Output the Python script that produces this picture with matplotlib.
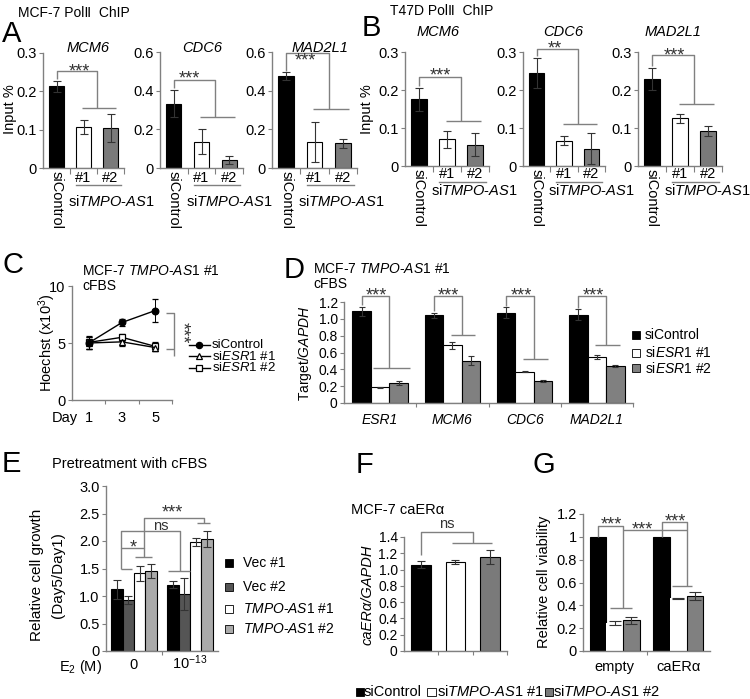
import matplotlib
matplotlib.use('Agg')
import matplotlib.pyplot as plt
from matplotlib.transforms import blended_transform_factory as btf
from matplotlib.patches import Rectangle
import numpy as np

plt.rcParams['font.family'] = ['Liberation Sans', 'DejaVu Sans']
plt.rcParams['mathtext.fontset'] = 'custom'
plt.rcParams['mathtext.rm'] = 'Liberation Sans'
plt.rcParams['mathtext.it'] = 'Liberation Sans:italic'
plt.rcParams['mathtext.bf'] = 'Liberation Sans:bold'

# ---------------- data ----------------
chip_genes = ['MCM6', 'CDC6', 'MAD2L1']
chip_groups = ['siControl', '#1', '#2']
A_mean = [[0.213, 0.107, 0.104], [0.333, 0.136, 0.041], [0.474, 0.136, 0.127]]
A_err = [[0.015, 0.017, 0.036], [0.070, 0.065, 0.020], [0.020, 0.103, 0.025]]
A_ymax = [0.3, 0.6, 0.6]
A_yticklabels = [['0', '0.1', '0.2', '0.3'], ['0', '0.2', '0.4', '0.6'], ['0', '0.2', '0.4', '0.6']]
A_sig = ['***', '***', '***']

B_mean = [[0.176, 0.070, 0.056], [0.244, 0.067, 0.045], [0.230, 0.126, 0.093]]
B_err = [[0.030, 0.022, 0.030], [0.040, 0.012, 0.041], [0.029, 0.012, 0.013]]
B_ymax = [0.3, 0.3, 0.3]
B_yticklabels = [['0', '0.1', '0.2', '0.3']] * 3
B_sig = ['***', '**', '***']

C_days = ['1', '3', '5']
C_series = ['siControl', 'si$\\mathit{ESR1}$ #1', 'si$\\mathit{ESR1}$ #2']
C_mean = [[5.0, 6.8, 7.85], [5.0, 5.1, 4.6], [5.05, 5.5, 4.7]]
C_err = [[0.55, 0.30, 1.05], [0.50, 0.35, 0.30], [0.60, 0.30, 0.40]]

D_genes = ['ESR1', 'MCM6', 'CDC6', 'MAD2L1']
D_series = ['siControl', 'si$\\mathit{ESR1}$ #1', 'si$\\mathit{ESR1}$ #2']
D_mean = [[1.09, 1.043, 1.075, 1.051], [0.185, 0.685, 0.374, 0.551], [0.236, 0.504, 0.264, 0.44]]
D_err = [[0.055, 0.03, 0.06, 0.06], [0.01, 0.045, 0.01, 0.025], [0.025, 0.05, 0.015, 0.01]]
D_yticklabels = ['0', '0.2', '0.4', '0.6', '0.8', '1.0', '1.2']

E_groups = ['0', '10$^{-13}$']
E_series = ['Vec #1', 'Vec #2', '$\\mathit{TMPO}$-$\\mathit{AS1}$ #1', '$\\mathit{TMPO}$-$\\mathit{AS1}$ #2']
E_mean = [[1.12, 1.206], [0.933, 1.04], [1.41, 1.98], [1.455, 2.04]]
E_err = [[0.17, 0.06], [0.07, 0.29], [0.14, 0.07], [0.13, 0.14]]
E_yticklabels = ['0', '0.5', '1.0', '1.5', '2.0', '2.5', '3.0']

F_groups = ['siControl', 'siTMPO-AS1 #1', 'siTMPO-AS1 #2']
F_mean = [1.06, 1.09, 1.15]
F_err = [0.045, 0.025, 0.085]
F_yticklabels = ['0', '0.2', '0.4', '0.6', '0.8', '1.0', '1.2', '1.4']

G_groups = ['empty', 'caERα']
G_mean = [[1.0, 1.0], [0.245, 0.46], [0.27, 0.48]]
G_err = [[0.0, 0.0], [0.02, 0.006], [0.03, 0.035]]
G_yticklabels = ['0', '0.2', '0.4', '0.6', '0.8', '1', '1.2']

bottom_legend = ['siControl', 'si$\\mathit{TMPO}$-$\\mathit{AS1}$ #1', 'si$\\mathit{TMPO}$-$\\mathit{AS1}$ #2']

# ---------------- helpers ----------------
W, H = 750, 699
fig = plt.figure(figsize=(W / 100, H / 100), dpi=100)
GRAY = '#808080'
STAR = '#333333'
STAR_FS = 13
TMPO = 'si$\\mathit{TMPO}$-$\\mathit{AS1}$'


def add_ax(x0, ytop, x1, ybot, labelsize=10.5):
    ax = fig.add_axes([x0 / W, 1 - ybot / H, (x1 - x0) / W, (ybot - ytop) / H])
    for s in ['top', 'right']:
        ax.spines[s].set_visible(False)
    for s in ['left', 'bottom']:
        ax.spines[s].set_color(GRAY)
        ax.spines[s].set_linewidth(1.0)
    ax.tick_params(axis='both', direction='out', length=3, width=0.8, color=GRAY,
                   labelsize=labelsize, pad=1.5)
    ax.set_facecolor('none')
    return ax


def ftext(px, py, s, **kw):
    return fig.text(px / W, 1 - py / H, s, **kw)


def fy(py):
    return 1 - py / H


def stars(ax, x, y, s, fs=STAR_FS):
    ax.annotate(s, (x, y), xytext=(0, -0.57 * fs), textcoords='offset points',
                ha='center', va='baseline', fontsize=fs, color=STAR, annotation_clip=False)


def bline(ax, xs, ys, **kw):
    ax.plot(xs, ys, color=GRAY, lw=1, clip_on=False, solid_capstyle='butt', **kw)


def fsquare(cx, cy, color, size=8):
    fig.add_artist(Rectangle(((cx - size / 2) / W, 1 - (cy + size / 2) / H), size / W, size / H,
                             transform=fig.transFigure, facecolor=color, edgecolor='black', lw=0.6))


# ---------------- panels A & B ----------------
chip_colors = ['black', 'white', '#7a7a7a']
A_boxes = [(43, 53, 124, 168), (160, 52, 243, 168), (272, 52, 357, 168)]
B_boxes = [(405, 52, 489, 166), (523, 52, 605, 166), (638, 52, 722, 166)]
A_brk = [(0.252, 0.157, 0.83, 0.266), (0.454, 0.265, 0.55, 0.49), (0.595, 0.303, 0.67, 0.584)]
B_brk = [(0.234, 0.118, 0.75, 0.253), (0.308, 0.110, 0.67, 0.324), (0.292, 0.163, 0.79, 0.305)]
A_title = [(88, 52), (202, 52), (320, 52)]
B_title = [(438, 36), (563, 36), (673, 36)]


def chip_panel(box, means, errs, ymax, ytl, sig, brk, title, gene, ynum, yline, ysi, ysc):
    ax = add_ax(*box)
    x = np.arange(len(chip_groups))
    ax.bar(x, means, width=0.55, color=chip_colors, edgecolor='black', linewidth=0.8, zorder=2)
    ax.errorbar(x, means, yerr=errs, fmt='none', ecolor='#333333', elinewidth=0.8,
                capsize=2.8, capthick=0.8, zorder=3)
    ax.set_xlim(-0.5, 2.5)
    ax.set_ylim(0, ymax)
    ax.set_yticks(np.linspace(0, ymax, len(ytl)))
    ax.set_yticklabels(ytl)
    ax.set_xticks([0.5, 1.5, 2.5])
    ax.set_xticklabels([])
    ax.tick_params(axis='x', length=4)
    top, low, sx, sy = brk
    b0 = means[0] + errs[0] + 0.015 * ymax
    bline(ax, [0, 0, 1.5, 1.5], [b0, top, top, low])
    bline(ax, [0.95, 2.2], [low, low])
    stars(ax, sx, sy, sig)
    ftext(title[0], title[1], gene, fontsize=10.5, style='italic', ha='center', va='baseline')
    tr = btf(ax.transData, fig.transFigure)
    ax.text(0, fy(ysc), chip_groups[0], transform=tr, rotation=-90, ha='center', va='top', fontsize=10.5)
    for i in (1, 2):
        ax.text(i, fy(ynum), chip_groups[i], transform=tr, ha='center', va='baseline', fontsize=10.5)
    ax.plot([0.72, 2.4], [fy(yline)] * 2, transform=tr, color=GRAY, lw=1, clip_on=False)
    ax.text(0.43, fy(ysi), TMPO, transform=tr, ha='left', va='baseline', fontsize=10.5)
    return ax


for i in range(3):
    axA = chip_panel(A_boxes[i], A_mean[i], A_err[i], A_ymax[i], A_yticklabels[i], A_sig[i],
                     A_brk[i], A_title[i], chip_genes[i], 182.5, 185, 206, 171)
    axB = chip_panel(B_boxes[i], B_mean[i], B_err[i], B_ymax[i], B_yticklabels[i], B_sig[i],
                     B_brk[i], B_title[i], chip_genes[i], 178.5, 181.5, 195, 169)

ftext(10, 109, 'Input %', rotation=90, ha='center', va='center', fontsize=10.5)
ftext(367, 109, 'Input %', rotation=90, ha='center', va='center', fontsize=10.5)
ftext(18, 17, 'MCF-7 Pol\u2161  ChIP', fontsize=10, ha='left', va='baseline')
ftext(390, 15, 'T47D Pol\u2161  ChIP', fontsize=10, ha='left', va='baseline')
ftext(2, 42, 'A', fontsize=21, ha='left', va='baseline')
ftext(362, 36, 'B', fontsize=21, ha='left', va='baseline')

# ---------------- panel C ----------------
axC = add_ax(72, 286, 172, 400)
xc = np.arange(len(C_days))
c_markers = ['o', '^', 's']
c_faces = ['black', 'white', 'white']
for k in range(3):
    axC.errorbar(xc, C_mean[k], yerr=C_err[k], color='black', lw=1, elinewidth=0.7,
                 capsize=2.2, capthick=0.7, marker=c_markers[k], ms=4.8, mfc=c_faces[k],
                 mec='black', mew=0.9, zorder=3 - k * 0.1)
axC.set_xlim(-0.5, 2.5)
axC.set_ylim(0, 10)
axC.set_yticks([0, 5, 10])
axC.set_xticks([0.5, 1.5, 2.5])
axC.set_xticklabels([])
trC = btf(axC.transData, fig.transFigure)
for i, d in enumerate(C_days):
    axC.text(i, fy(422), d, transform=trC, ha='center', va='baseline', fontsize=10.5)
ftext(52, 422, 'Day', fontsize=10.5, ha='left', va='baseline')
ftext(47, 343, 'Hoechst (x10$^3$)', rotation=90, ha='center', va='center', fontsize=10.5)
ftext(82, 275, 'MCF-7 $\\mathit{TMPO}$-$\\mathit{AS1}$ #1', fontsize=10, ha='left', va='baseline')
ftext(82, 290, 'cFBS', fontsize=10, ha='left', va='baseline')
ftext(2, 273, 'C', fontsize=21, ha='left', va='baseline')
bline(axC, [2.32, 2.56, 2.56], [7.63, 7.63, 3.9])
bline(axC, [2.32, 2.56], [4.5, 4.5])
axC.text(2.78, 5.9, '***', rotation=-90, ha='center', va='center', fontsize=STAR_FS,
         color=STAR, clip_on=False)
leg_y = [344.5, 356, 367.5]
for k in range(3):
    fig.add_artist(plt.Line2D([189 / W, 210 / W], [fy(leg_y[k])] * 2, color='black', lw=1,
                              marker=None, transform=fig.transFigure))
    fig.add_artist(plt.Line2D([199 / W], [fy(leg_y[k])], color='black', marker=c_markers[k],
                              ms=4.5, mfc=c_faces[k], mec='black', mew=0.9, transform=fig.transFigure))
    ftext(212, leg_y[k], C_series[k], fontsize=9.5, ha='left', va='center')

# ---------------- panel D ----------------
axD = add_ax(344, 302, 633, 403, labelsize=10)
xd = np.arange(len(D_genes))
wd = 0.257
d_colors = ['black', 'white', '#808080']
for k in range(3):
    axD.bar(xd + (k - 1) * wd, D_mean[k], width=wd, color=d_colors[k], edgecolor='black',
            linewidth=0.8, zorder=2)
    axD.errorbar(xd + (k - 1) * wd, D_mean[k], yerr=D_err[k], fmt='none', ecolor='#333333',
                 elinewidth=0.8, capsize=2.5, capthick=0.8, zorder=3)
axD.set_xlim(-0.5, 3.5)
axD.set_ylim(0, 1.2)
axD.set_yticks(np.arange(0, 1.21, 0.2))
axD.set_yticklabels(D_yticklabels)
axD.set_xticks([0.5, 1.5, 2.5, 3.5])
axD.set_xticklabels([])
D_low = [0.413, 0.807, 0.52, 0.689]
for g in range(4):
    b0 = D_mean[0][g] + D_err[0][g] + 0.015
    bline(axD, [g - wd, g - wd, g + wd / 2, g + wd / 2], [b0, 1.268, 1.268, D_low[g]])
    lo, hi = (-0.1, 0.42) if g == 0 else (-0.02, 0.32)
    bline(axD, [g + lo, g + hi], [D_low[g], D_low[g]])
    stars(axD, g - 0.05, 1.345, '***')
trD = btf(axD.transData, fig.transFigure)
for g, name in enumerate(D_genes):
    axD.text(g, fy(424), name, transform=trD, ha='center', va='baseline', fontsize=10, style='italic')
ftext(305, 353, 'Target/$\\mathit{GAPDH}$', rotation=90, ha='center', va='center', fontsize=10)
ftext(313, 273, 'MCF-7 $\\mathit{TMPO}$-$\\mathit{AS1}$ #1', fontsize=10, ha='left', va='baseline')
ftext(313, 288, 'cFBS', fontsize=10, ha='left', va='baseline')
ftext(284, 278, 'D', fontsize=21, ha='left', va='baseline')
dleg_y = [335, 353, 368]
for k in range(3):
    fsquare(636, dleg_y[k], d_colors[k], size=8)
    ftext(645, dleg_y[k], D_series[k], fontsize=10, ha='left', va='center')

# ---------------- panel E ----------------
axE = add_ax(106, 486, 218, 651)
xe = np.arange(len(E_groups))
we = 0.205
e_colors = ['black', '#555555', 'white', '#aaaaaa']
for k in range(4):
    axE.bar(xe + (k - 1.5) * we, E_mean[k], width=we, color=e_colors[k], edgecolor='black',
            linewidth=0.8, zorder=2)
    axE.errorbar(xe + (k - 1.5) * we, E_mean[k], yerr=E_err[k], fmt='none', ecolor='#333333',
                 elinewidth=0.8, capsize=3, capthick=0.8, zorder=3)
axE.set_xlim(-0.5, 1.5)
axE.set_ylim(0, 3.0)
axE.set_yticks(np.arange(0, 3.01, 0.5))
axE.set_yticklabels(E_yticklabels)
axE.set_xticks([0.5])
axE.set_xticklabels([])
# caps
bline(axE, [-0.24, -0.03], [1.50, 1.50])
bline(axE, [0.02, 0.32], [1.71, 1.71])
bline(axE, [0.61, 1.0], [1.45, 1.45])
bline(axE, [1.12, 1.35], [2.33, 2.33])
# brackets
bline(axE, [-0.24, -0.24, 0.17, 0.17], [1.50, 1.88, 1.88, 1.71])
bline(axE, [-0.24, -0.24, 0.82, 0.82], [1.88, 2.18, 2.18, 1.45])
bline(axE, [0.17, 0.17, 1.25, 1.25], [1.88, 2.42, 2.42, 2.33])
stars(axE, -0.01, 1.97, '*')
axE.text(0.47, 2.28, 'ns', ha='center', va='center', fontsize=10.5, color=STAR)
stars(axE, 0.69, 2.61, '***')
trE = btf(axE.transData, fig.transFigure)
for g, lab in enumerate(E_groups):
    axE.text(g, fy(669), lab, transform=trE, ha='center', va='baseline', fontsize=10.5)
ftext(81, 671, 'E$_2$ (M)', fontsize=10.5, ha='center', va='baseline')
ftext(37, 575, 'Relative cell growth', rotation=90, ha='center', va='center', fontsize=11)
ftext(58, 575, '(Day5/Day1)', rotation=90, ha='center', va='center', fontsize=11)
ftext(130, 468, 'Pretreatment with cFBS', fontsize=10.5, ha='center', va='baseline')
ftext(2, 472, 'E', fontsize=21, ha='left', va='baseline')
eleg_y = [563, 587, 609, 629]
for k in range(4):
    fsquare(229, eleg_y[k], e_colors[k], size=8.5)
    ftext(243, eleg_y[k], E_series[k], fontsize=10, ha='left', va='center')

# ---------------- panel F ----------------
axF = add_ax(404, 537, 507, 651, labelsize=10)
xf = np.arange(len(F_groups))
axF.bar(xf, F_mean, width=0.57, color=chip_colors, edgecolor='black', linewidth=0.8, zorder=2)
axF.errorbar(xf, F_mean, yerr=F_err, fmt='none', ecolor='#333333', elinewidth=0.8,
             capsize=3, capthick=0.8, zorder=3)
axF.set_xlim(-0.5, 2.5)
axF.set_ylim(0, 1.4)
axF.set_yticks(np.arange(0, 1.41, 0.2))
axF.set_yticklabels(F_yticklabels)
axF.set_xticks([0.5, 1.5, 2.5])
axF.set_xticklabels([])
bline(axF, [0, 0, 1.5, 1.5], [F_mean[0] + F_err[0] + 0.08, 1.46, 1.46, 1.33])
bline(axF, [0.9, 2.05], [1.33, 1.33])
axF.text(0.75, 1.56, 'ns', ha='center', va='center', fontsize=10.5, color=STAR, clip_on=False)
ftext(398, 514, 'MCF-7 caERα', fontsize=10.5, ha='center', va='baseline')
ftext(368, 595, 'caERα/GAPDH', rotation=90, ha='center', va='center', fontsize=10.5, style='italic')
ftext(356, 473, 'F', fontsize=21, ha='left', va='baseline')

# ---------------- panel G ----------------
axG = add_ax(583, 514, 710, 651)
xg = np.arange(len(G_groups))
wg = 0.26
g_colors = ['black', 'white', '#808080']
g_edges = ['black', 'none', 'black']
for k in range(3):
    axG.bar(xg + (k - 1) * wg, G_mean[k], width=wg, color=g_colors[k], edgecolor=g_edges[k],
            linewidth=0.8, zorder=2)
    if k > 0:
        axG.errorbar(xg + (k - 1) * wg, G_mean[k], yerr=G_err[k], fmt='none', ecolor='#333333',
                     elinewidth=0.8, capsize=4, capthick=0.8, zorder=3)
axG.set_xlim(-0.5, 1.5)
axG.set_ylim(0, 1.2)
axG.set_yticks(np.arange(0, 1.21, 0.2))
axG.set_yticklabels(G_yticklabels)
axG.set_xticks([0.5])
axG.set_xticklabels([])
bline(axG, [-wg, -wg, wg / 2, wg / 2], [1.0, 1.097, 1.097, 0.377])
bline(axG, [-0.07, 0.27], [0.377, 0.377])
bline(axG, [1 - wg, 1 - wg, 1 + wg / 2, 1 + wg / 2], [1.0, 1.13, 1.13, 0.57])
bline(axG, [0.9, 1.22], [0.57, 0.57])
bline(axG, [wg / 2, 1 + wg / 2], [1.06, 1.06])
stars(axG, -0.06, 1.158, '***')
stars(axG, 0.43, 1.114, '***')
stars(axG, 0.95, 1.18, '***')
trG = btf(axG.transData, fig.transFigure)
for g, lab in enumerate(G_groups):
    axG.text(g, fy(671), lab, transform=trG, ha='center', va='baseline', fontsize=10.5)
ftext(544, 582, 'Relative cell viability', rotation=90, ha='center', va='center', fontsize=10.5)
ftext(532, 473, 'G', fontsize=21, ha='left', va='baseline')

# ---------------- bottom legend ----------------
bl_sq = [359.5, 431.5, 548.5]
bl_tx = [364, 437, 553]
for k in range(3):
    fsquare(bl_sq[k], 692, chip_colors[k], size=8)
    ftext(bl_tx[k], 692, bottom_legend[k], fontsize=10.5, ha='left', va='center')

fig.savefig('out.png', dpi=100)
